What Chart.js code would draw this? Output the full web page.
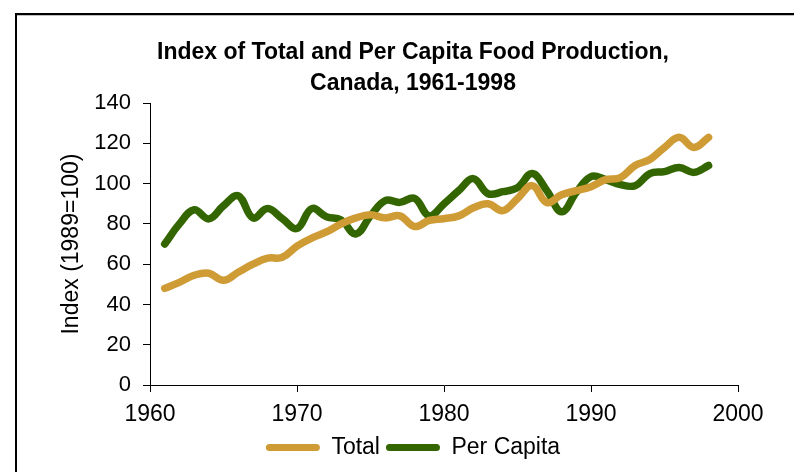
<!DOCTYPE html>
<html>
<head>
<meta charset="utf-8">
<script src="https://cdn.jsdelivr.net/npm/chart.js@4.4.0/dist/chart.umd.min.js"></script>
<style>
  html, body { margin:0; padding:0; background:#fff; }
  #wrap { position:relative; width:794px; height:472px; overflow:hidden; }
  #frame { position:absolute; left:15px; top:13px; width:900px; height:600px;
           border-top:2px solid #000; border-left:2px solid #000; box-shadow: inset 0 1px 0 #c0c0c0; }
  #chart { position:absolute; left:0; top:0; }
</style>
</head>
<body>
<div id="wrap">
  <div id="frame"></div>
  <canvas id="chart" width="794" height="472"></canvas>
</div>
<script>
// data
const years = [1961,1962,1963,1964,1965,1966,1967,1968,1969,1970,
  1971,1972,1973,1974,1975,1976,1977,1978,1979,1980,
  1981,1982,1983,1984,1985,1986,1987,1988,1989,1990,
  1991,1992,1993,1994,1995,1996,1997,1998];
const totalIndex = [48,51,54.5,55.5,52,56,60,63,63.4,69,
  73,76,80,83,84.5,83,84,78.7,81.7,82.6,
  84,88,90,86.6,92.6,99,90.6,94.5,96.5,98.5,
  102,103,109,112,118,123,118,123];
const perCapita = [70,80,87,82.5,89,94,83,87.6,82.6,77.7,
  87.6,83.6,82,75,84,91.6,90.7,92.7,84,90,
  96.5,102.5,95,96,98,105,96.5,86,95.7,103.5,
  102,99.5,99,105,106,108,105.6,109];
const seriesNames = ['Total','Per Capita'];
const seriesColors = ['#CE9B35','#336600'];
const xTicks = [1960,1970,1980,1990,2000];
const yTicks = [0,20,40,60,80,100,120,140];

const FONT = 'Liberation Sans, Arial, sans-serif';
Chart.defaults.font.family = FONT;
Chart.defaults.color = '#000';

const pts = arr => arr.map((v,i)=>({x:years[i], y:v}));

new Chart(document.getElementById('chart'), {
  type:'line',
  data:{
    datasets:[
      {label:seriesNames[0], data:pts(totalIndex), borderColor:seriesColors[0], backgroundColor:seriesColors[0]},
      {label:seriesNames[1], data:pts(perCapita), borderColor:seriesColors[1], backgroundColor:seriesColors[1]}
    ].map(d=>Object.assign(d,{borderWidth:7.5, pointRadius:0, tension:0.4, borderCapStyle:'round', borderJoinStyle:'round', fill:false}))
  },
  options:{
    responsive:false, animation:false,
    layout:{padding:{left:88, right:56, top:0, bottom:3}},
    plugins:{
      title:{display:true, text:['Index of Total and Per Capita Food Production,','Canada, 1961-1998'],
        font:{size:23, weight:'bold', lineHeight:1.35}, color:'#000', padding:{top:37, bottom:4}},
      legend:{position:'bottom',
        labels:{boxWidth:54, boxHeight:7, padding:6, font:{size:23}, color:'#000', useBorderRadius:true, borderRadius:3.5,
          generateLabels(chart){
            return Chart.defaults.plugins.legend.labels.generateLabels(chart).map(l=>Object.assign(l,{lineWidth:0, strokeStyle:'transparent'}));
          }}},
      tooltip:{enabled:false}
    },
    scales:{
      x:{type:'linear', min:xTicks[0], max:xTicks[xTicks.length-1],
        afterBuildTicks(s){ s.ticks = xTicks.map(v=>({value:v})); },
        afterFit(s){ s.height = 45; },
        ticks:{font:{size:23}, color:'#000', padding:9, maxRotation:0, callback:v=>String(v)},
        grid:{display:true, drawOnChartArea:false, drawTicks:true, tickLength:7, color:'#000'},
        border:{display:true, color:'#000', width:1}},
      y:{min:0, max:140,
        afterBuildTicks(s){ s.ticks = yTicks.map(v=>({value:v})); },
        afterFit(s){ s.width = 62; },
        ticks:{font:{size:22}, color:'#000', padding:12},
        grid:{display:true, drawOnChartArea:false, drawTicks:true, tickLength:7, color:'#000'},
        border:{display:true, color:'#000', width:1},
        title:{display:true, text:'Index (1989=100)', font:{size:23}, color:'#000', padding:{top:-30, bottom:0}}}
    }
  }
});
</script>
</body>
</html>
